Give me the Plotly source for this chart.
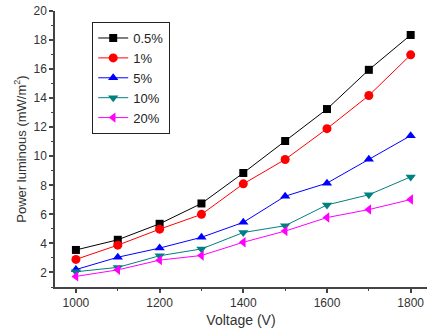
import plotly.graph_objects as go

voltage = [1000, 1100, 1200, 1300, 1400, 1500, 1600, 1700, 1800]
s_05 = [3.55, 4.25, 5.35, 6.75, 8.85, 11.05, 13.25, 15.95, 18.35]
s_1 = [2.9, 3.88, 4.98, 6.0, 8.1, 9.78, 11.9, 14.18, 16.98]
s_5 = [2.2, 3.05, 3.68, 4.42, 5.45, 7.25, 8.15, 9.8, 11.42]
s_10 = [2.05, 2.35, 3.15, 3.62, 4.75, 5.22, 6.65, 7.35, 8.58]
s_20 = [1.73, 2.18, 2.85, 3.17, 4.08, 4.85, 5.78, 6.33, 7.02]
names = ["0.5%", "1%", "5%", "10%", "20%"]

series = [s_05, s_1, s_5, s_10, s_20]
colors = ["#000000", "#ff0000", "#0000ff", "#008080", "#ff00ff"]
symbols = ["square", "circle", "triangle-up", "triangle-down", "triangle-left"]

fig = go.Figure()
for name, ys, c, sym in zip(names, series, colors, symbols):
    fig.add_trace(go.Scatter(
        x=voltage, y=ys, name=name, mode="lines+markers",
        line=dict(color=c, width=1),
        marker=dict(symbol=sym, size=9 if sym != "square" else 8, color=c),
    ))

axis_common = dict(
    showgrid=False, zeroline=False, showline=True, linecolor="#444", linewidth=1.5,
    ticks="outside", ticklen=4, tickwidth=1.5, tickcolor="#444",
    tickfont=dict(family="Liberation Sans, Arial", size=12, color="#333"),
)

fig.update_layout(
    width=427, height=333,
    margin=dict(l=55, r=0, t=11, b=46),
    plot_bgcolor="white", paper_bgcolor="white",
    font=dict(family="Liberation Sans, Arial", color="#333"),
    xaxis=dict(range=[950, 1839], tickvals=[1000, 1200, 1400, 1600, 1800],
               minor=dict(ticks="outside", ticklen=2, tickwidth=1, tickcolor="#444", dtick=100, tick0=1000),
               title=dict(text="Voltage (V)", font=dict(size=14), standoff=6),
               **axis_common),
    yaxis=dict(range=[1, 20], tickvals=[2, 4, 6, 8, 10, 12, 14, 16, 18, 20],
               minor=dict(ticks="outside", ticklen=2, tickwidth=1, tickcolor="#444", dtick=1, tick0=0),
               title=dict(text="Power luminous (mW/m<sup>2</sup>)", font=dict(size=13), standoff=4),
               **axis_common),
    legend=dict(x=0.1, y=0.96, xanchor="left", yanchor="top",
                bordercolor="#222", borderwidth=1, bgcolor="white",
                font=dict(size=13, color="#222"), tracegroupgap=0, itemwidth=30),
)

fig.write_html("out.html")
